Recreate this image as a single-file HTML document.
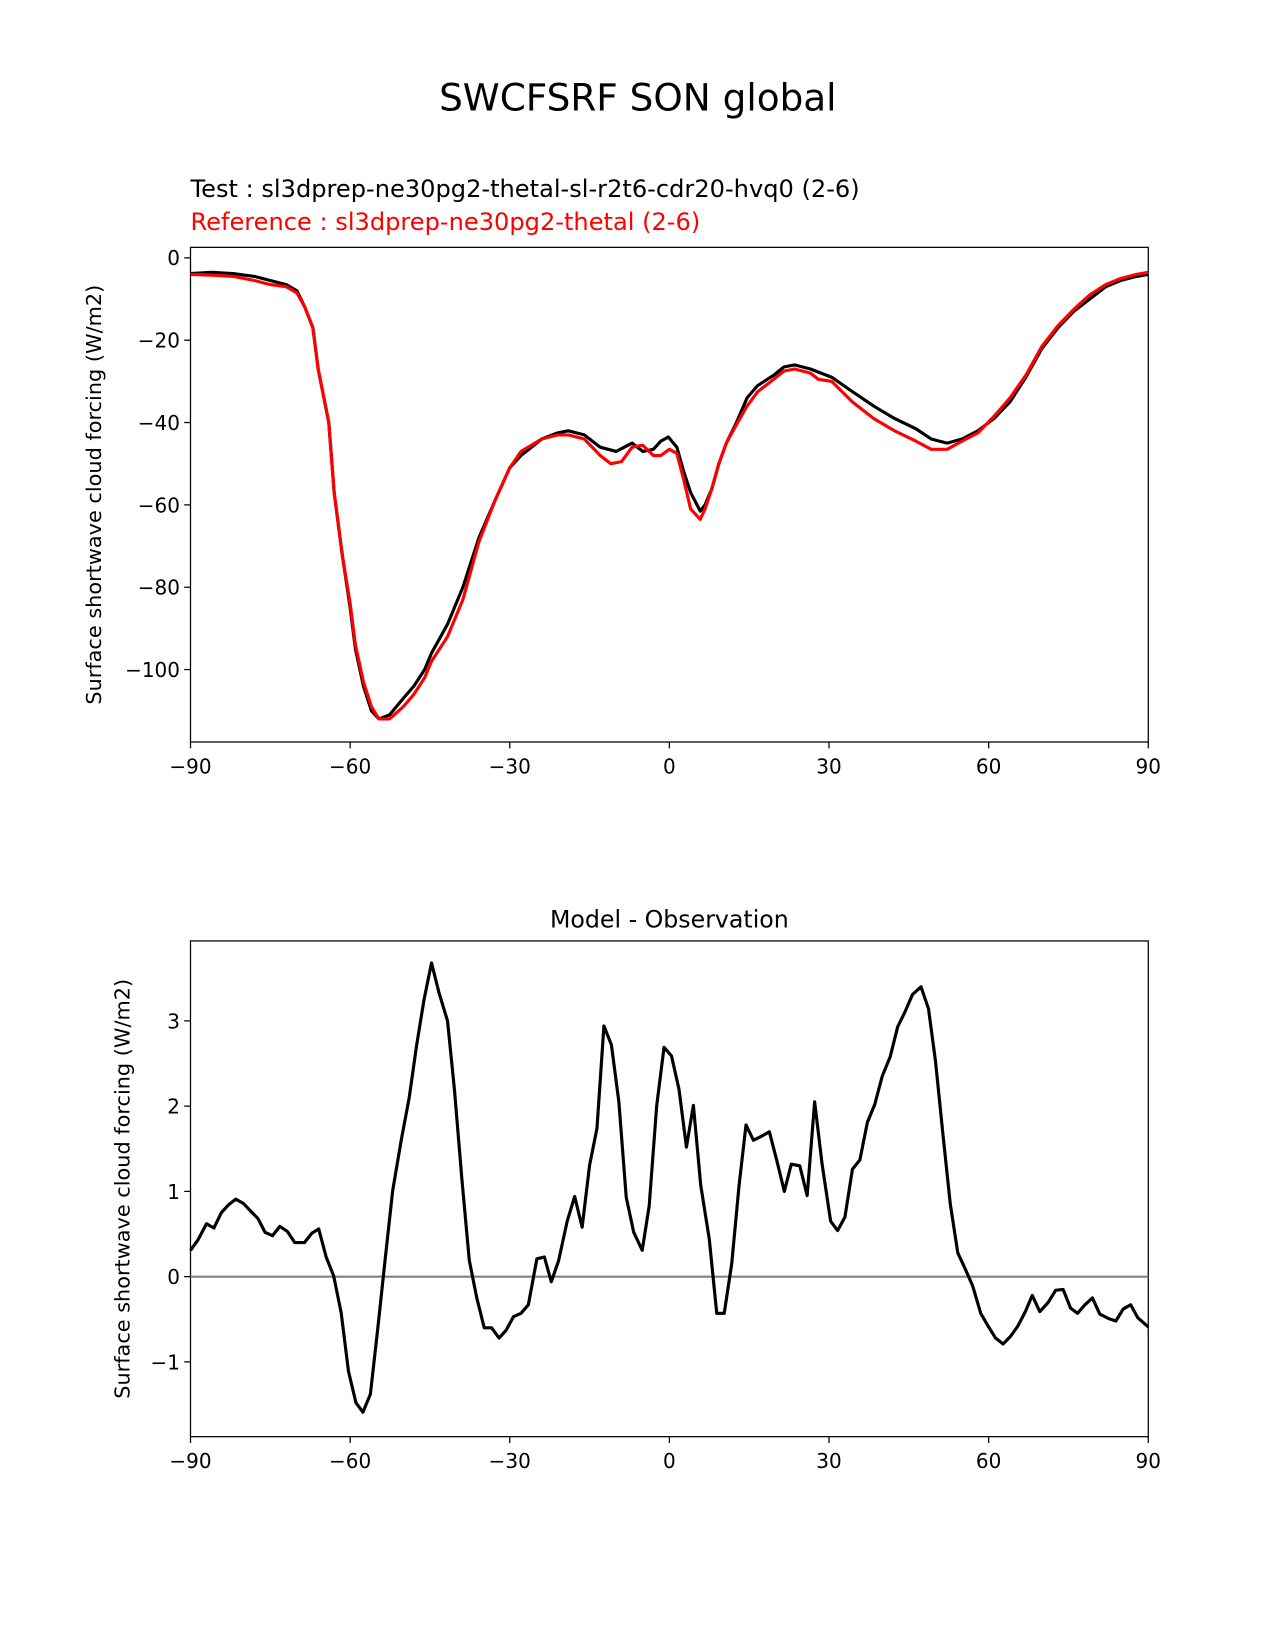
<!DOCTYPE html>
<html><head><meta charset="utf-8"><style>
body{margin:0;background:#fff}
svg{display:block;font-family:"DejaVu Sans","Liberation Sans",sans-serif}
</style></head><body>
<svg id="fig" width="1275" height="1650" viewBox="0 0 1275 1650" xmlns="http://www.w3.org/2000/svg">
<rect width="1275" height="1650" fill="#fff"/>
<g transform="scale(1.0525)">
<text x="606" y="105" font-size="35.5" text-anchor="middle">SWCFSRF SON global</text>
<text x="181" y="187" font-size="22.9">Test : sl3dprep-ne30pg2-thetal-sl-r2t6-cdr20-hvq0 (2-6)</text>
<text x="181" y="218.5" font-size="22.9" fill="#ff0000">Reference : sl3dprep-ne30pg2-thetal (2-6)</text>
<text x="636" y="881" font-size="22.5" text-anchor="middle">Model - Observation</text>
<g id="top"></g>
<g id="bot"></g>
</g>
</svg>
<script>
const topLat=[-90,-86,-82,-78,-75,-72,-70,-68.5,-67,-66,-64,-63,-61.5,-60,-59,-57.5,-56,-54.6,-52.6,-50,-48,-46,-44.7,-41.7,-38.8,-35.8,-32.8,-30,-27.9,-24,-21,-19,-16,-13,-10,-7,-5,-3,-1.6,-0.2,1.4,2.7,4,5.8,6.7,8,9.3,10.7,12.6,14.6,16.6,19.6,21.5,23.5,26.5,30.5,34.4,38.4,42.3,46.3,49.2,52.2,55,58,61,64,67,70,73,76,79,82,84.8,87.8,90];
const testVals=[-3.8,-3.5,-3.8,-4.5,-5.5,-6.5,-8,-12,-17,-27,-40,-57,-72,-85,-95,-104,-110,-112,-111,-107,-104,-100,-96,-89,-80,-68,-59,-51,-48,-44,-42.5,-42,-43,-46,-47,-45,-47,-46.5,-44.5,-43.5,-46,-52,-57,-61.5,-60,-56,-50,-45,-40,-34,-31,-28.5,-26.5,-26,-27,-29,-32.5,-36,-39,-41.5,-44,-45,-44,-42,-39,-35,-29,-22,-17,-13,-10,-7,-5.5,-4.5,-4];
const refLat=[-90,-86,-82,-78,-75,-72,-70,-68.5,-67,-66,-64,-63,-61.5,-60,-59,-57.5,-56,-54.6,-52.6,-50,-48,-46,-44.7,-41.7,-38.8,-35.8,-32.8,-30,-27.9,-24,-21,-19,-16,-13,-11,-9,-7,-5,-3,-1.6,0,1.4,2.7,4,5.8,6.7,8,9.3,10.7,12.6,14.6,16.6,19.6,21.5,23.5,26.5,28,30.5,34.4,38.4,42.3,46.3,49.2,52.2,55,58,61,64,67,70,73,76,79,82,84.8,87.8,90];
const refVals=[-4,-4.2,-4.5,-5.5,-6.5,-7,-8.5,-12,-17,-27,-40,-57,-72,-84,-94,-103,-109,-112,-112,-109,-106,-102,-98,-92,-83,-69,-59,-51,-47,-44,-43,-43,-44,-48,-50,-49.5,-46,-45.5,-48,-48,-46.5,-47.5,-54,-61,-63.5,-61,-56,-50,-45,-40.5,-36,-32.5,-29.5,-27.5,-27,-28,-29.5,-30,-35,-39,-42,-44.5,-46.5,-46.5,-44.5,-42.5,-38.5,-34,-28.5,-21.5,-16.5,-12.5,-9,-6.5,-5,-4,-3.5];
const diffLat=[-90,-88.6,-87,-85.6,-84.2,-82.9,-81.5,-80.1,-78.7,-77.3,-76,-74.6,-73.2,-71.8,-70.4,-68.6,-67.2,-65.9,-64.5,-63.1,-61.7,-60.3,-58.9,-57.6,-56.2,-54.8,-53.4,-52,-50.4,-48.9,-47.5,-46.1,-44.7,-43.3,-41.7,-40.4,-39,-37.6,-36.2,-34.8,-33.4,-32,-30.7,-29.3,-27.9,-26.5,-24.9,-23.5,-22.2,-20.8,-19.2,-17.8,-16.4,-15,-13.6,-12.3,-10.9,-9.5,-8.1,-6.7,-5.1,-3.8,-2.4,-1,0.4,1.8,3.2,4.5,5.9,7.5,8.9,10.3,11.7,13.1,14.4,15.8,17.4,18.8,20.2,21.6,22.9,24.5,25.9,27.3,28.7,30.3,31.6,33,34.4,35.8,37.2,38.6,40,41.5,42.9,44.3,45.7,47.3,48.7,50,51.4,52.8,54.2,55.6,57,58.5,59.9,61.3,62.7,64.1,65.5,66.9,68.2,69.6,71.2,72.6,74,75.4,76.7,78.1,79.5,80.9,82.5,83.9,85.3,86.7,88,90];
const diffVals=[0.31,0.43,0.62,0.57,0.75,0.84,0.91,0.86,0.77,0.68,0.52,0.48,0.59,0.53,0.4,0.4,0.51,0.56,0.23,0.01,-0.42,-1.11,-1.48,-1.59,-1.38,-0.6,0.21,1.01,1.6,2.1,2.72,3.25,3.68,3.33,3.0,2.19,1.15,0.19,-0.25,-0.6,-0.6,-0.72,-0.63,-0.47,-0.43,-0.33,0.21,0.23,-0.06,0.19,0.65,0.94,0.58,1.31,1.74,2.94,2.72,2.05,0.93,0.52,0.31,0.83,2.0,2.69,2.59,2.2,1.52,2.01,1.07,0.44,-0.43,-0.43,0.15,1.07,1.78,1.6,1.65,1.7,1.36,1.0,1.32,1.3,0.95,2.05,1.32,0.65,0.54,0.7,1.26,1.37,1.81,2.02,2.35,2.58,2.93,3.11,3.31,3.4,3.14,2.53,1.67,0.85,0.28,0.09,-0.11,-0.43,-0.58,-0.72,-0.79,-0.7,-0.58,-0.41,-0.22,-0.41,-0.3,-0.16,-0.15,-0.37,-0.43,-0.33,-0.25,-0.44,-0.49,-0.52,-0.38,-0.33,-0.48,-0.59];
const xTicks=[-90,-60,-30,0,30,60,90];
const xTickLabels=["\u221290","\u221260","\u221230","0","30","60","90"];
const topYTicks=[0,-20,-40,-60,-80,-100];
const topYLabels=["0","\u221220","\u221240","\u221260","\u221280","\u2212100"];
const botYTicks=[3,2,1,0,-1];
const botYLabels=["3","2","1","0","\u22121"];

const NS="http://www.w3.org/2000/svg";
function mk(p,t,a){const e=document.createElementNS(NS,t);for(const k in a)e.setAttribute(k,a[k]);p.appendChild(e);return e;}
const L=181,R=1091;
const xs=v=>L+(v+90)/180*(R-L);
function panel(g,T,B,ymin,ymax,yt,ytl,ylabX,name){
  const ys=v=>B-(v-ymin)/(ymax-ymin)*(B-T);
  const fr=mk(g,'rect',{x:L,y:T,width:R-L,height:B-T,fill:'none',stroke:'#000','stroke-width':1.2});
  
  
  xTicks.forEach((t,i)=>{
    const x=xs(t);
    const tk=mk(g,'line',{x1:x,x2:x,y1:B,y2:B+6,stroke:'#000','stroke-width':1.2});
    
    
    const tx=mk(g,'text',{x:x,y:B+30,'font-size':19,'text-anchor':'middle'});tx.textContent=xTickLabels[i];
    
    
  });
  yt.forEach((t,i)=>{
    const y=ys(t);
    const tk=mk(g,'line',{x1:L-6,x2:L,y1:y,y2:y,stroke:'#000','stroke-width':1.2});
    
    
    const tx=mk(g,'text',{x:L-10,y:y+7,'font-size':19,'text-anchor':'end'});tx.textContent=ytl[i];
    
    
  });
  const yl=mk(g,'text',{x:0,y:0,'font-size':19.8,'text-anchor':'middle',transform:`translate(${ylabX},${(T+B)/2}) rotate(-90)`});
  yl.textContent='Surface shortwave cloud forcing (W/m2)';
  
  
  return ys;
}
function line(g,lat,vals,ys,color,w,name){
  const d=lat.map((v,i)=>(i?'L':'M')+xs(v).toFixed(1)+' '+ys(vals[i]).toFixed(1)).join(' ');
  const p=mk(g,'path',{d:d,fill:'none',stroke:color,'stroke-width':w,'stroke-linejoin':'round'});
  
  
}
const gt=document.getElementById('top');
const ysT=panel(gt,235,705,-117.6,2.56,topYTicks,topYLabels,96,'top');
line(gt,topLat,testVals,ysT,'#000',3,'test-line');
line(gt,refLat,refVals,ysT,'#ff0000',3,'reference-line');
const gb=document.getElementById('bot');
const ysB=panel(gb,894,1365,-1.877,3.938,botYTicks,botYLabels,123,'bottom');
const zl=mk(gb,'line',{x1:L,x2:R,y1:ysB(0),y2:ysB(0),stroke:'#808080','stroke-width':2});


line(gb,diffLat,diffVals,ysB,'#000',3,'difference-line');
</script>
</body></html>
